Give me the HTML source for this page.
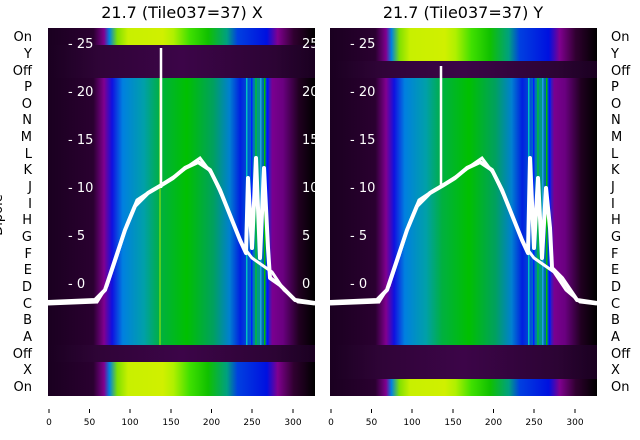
<!DOCTYPE html>
<html><head><meta charset="utf-8"><style>
html,body{margin:0;padding:0;background:#fff;}
svg{display:block;font-family:"DejaVu Sans","Liberation Sans",sans-serif;}
</style></head><body>
<svg width="640" height="440" viewBox="0 0 640 440" xmlns="http://www.w3.org/2000/svg">
<defs>
<linearGradient id="sp" x1="0" y1="0" x2="267" y2="0" gradientUnits="userSpaceOnUse">
<stop offset="0" stop-color="#1a0020"/><stop offset="0.17" stop-color="#2a0030"/>
<stop offset="0.21" stop-color="#800090"/><stop offset="0.24" stop-color="#1010e0"/>
<stop offset="0.28" stop-color="#0080e0"/><stop offset="0.36" stop-color="#00a0a8"/>
<stop offset="0.42" stop-color="#00b040"/><stop offset="0.52" stop-color="#00c000"/>
<stop offset="0.62" stop-color="#00a060"/><stop offset="0.68" stop-color="#0080d0"/>
<stop offset="0.72" stop-color="#0020e0"/><stop offset="0.76" stop-color="#0060d0"/>
<stop offset="0.79" stop-color="#00a080"/><stop offset="0.82" stop-color="#0030e0"/>
<stop offset="0.84" stop-color="#7a0090"/><stop offset="0.88" stop-color="#6a0080"/>
<stop offset="0.94" stop-color="#200020"/><stop offset="1" stop-color="#000"/>
</linearGradient>
<linearGradient id="yl" x1="0" y1="0" x2="267" y2="0" gradientUnits="userSpaceOnUse">
<stop offset="0" stop-color="#1a0020"/><stop offset="0.17" stop-color="#2a0030"/>
<stop offset="0.21" stop-color="#800090"/><stop offset="0.23" stop-color="#0080e0"/>
<stop offset="0.26" stop-color="#80e000"/><stop offset="0.30" stop-color="#c8f000"/>
<stop offset="0.43" stop-color="#d0f000"/><stop offset="0.47" stop-color="#b0f000"/>
<stop offset="0.53" stop-color="#40e000"/><stop offset="0.60" stop-color="#10c000"/>
<stop offset="0.67" stop-color="#00a080"/><stop offset="0.71" stop-color="#0040e0"/>
<stop offset="0.82" stop-color="#0010e0"/><stop offset="0.86" stop-color="#800090"/>
<stop offset="0.92" stop-color="#300030"/><stop offset="1" stop-color="#000"/>
</linearGradient>
<linearGradient id="dk" x1="0" y1="0" x2="267" y2="0" gradientUnits="userSpaceOnUse">
<stop offset="0" stop-color="#1a0020"/><stop offset="0.2" stop-color="#300438"/><stop offset="0.5" stop-color="#3c0548"/><stop offset="0.85" stop-color="#2c0434"/><stop offset="1" stop-color="#1a0020"/>
</linearGradient>
<g id="stripes">
<rect x="198" y="50" width="1.5" height="267" fill="#00c0c0"/>
<rect x="203" y="50" width="1.5" height="267" fill="#0020ff"/>
<rect x="207" y="50" width="2" height="267" fill="#00b050"/>
<rect x="212" y="50" width="1.5" height="267" fill="#20a0e0"/>
<rect x="216" y="50" width="1.5" height="267" fill="#00c000"/>
<rect x="219" y="50" width="1.5" height="267" fill="#0010ff"/>
</g>
</defs>

<!-- LEFT PANEL -->
<g transform="translate(48,28)">
<rect x="0" y="0" width="267" height="368" fill="url(#sp)"/>
<use href="#stripes"/>
<rect x="0" y="0" width="267" height="17" fill="url(#yl)"/>
<rect x="0" y="17" width="267" height="33" fill="url(#dk)"/>
<rect x="0" y="317" width="267" height="17" fill="url(#dk)"/>
<rect x="0" y="334" width="267" height="34" fill="url(#yl)"/>
<line x1="112" y1="50" x2="112" y2="317" stroke="#c0f000" stroke-width="1.5" opacity="0.6"/>
<polyline fill="none" stroke="#fff" stroke-width="4" stroke-linejoin="round"
points="0,274 47,272 57,262 67,232 77,202 87,178 100,165 112,158 125,150 137,140 150,134 162,142 172,162 182,187 192,212 198,225 200,150 204,220 208,130 212,230 216,140 220,220 222,250 232,257 247,272 267,275"/>
<polyline fill="none" stroke="#fff" stroke-width="3" points="0,276 49,274 59,258 69,228 79,196 89,172 104,162 116,155 130,146 142,137 152,130 164,146 174,168 184,192 194,217 204,230 224,244 236,262 250,274 267,276"/>
<line x1="113" y1="20" x2="113" y2="160" stroke="#fff" stroke-width="2.5"/>
<g fill="#fff" font-size="13">
<text x="20" y="20">- 25</text><text x="20" y="68">- 20</text><text x="20" y="116">- 15</text>
<text x="20" y="164">- 10</text><text x="20" y="212">- 5</text><text x="20" y="260">- 0</text>
<text x="254" y="20">25</text><text x="254" y="68">20</text><text x="254" y="116">15</text>
<text x="254" y="164">10</text><text x="254" y="212">5</text><text x="254" y="260">0</text>
</g>
</g>

<!-- RIGHT PANEL -->
<g transform="translate(330,28)">
<rect x="0" y="0" width="267" height="368" fill="url(#sp)"/>
<use href="#stripes"/>
<rect x="0" y="0" width="267" height="33" fill="url(#yl)"/>
<rect x="0" y="33" width="267" height="17" fill="url(#dk)"/>
<rect x="0" y="317" width="267" height="34" fill="url(#dk)"/>
<rect x="0" y="351" width="267" height="17" fill="url(#yl)"/>
<polyline fill="none" stroke="#fff" stroke-width="4" stroke-linejoin="round"
points="0,274 47,272 57,262 67,232 77,202 87,178 100,165 112,158 125,150 137,140 150,134 162,142 172,162 182,187 192,212 198,225 200,130 204,220 208,150 212,230 216,160 220,200 222,240 232,250 247,272 267,275"/>
<polyline fill="none" stroke="#fff" stroke-width="3" points="0,276 49,274 59,258 69,228 79,196 89,172 104,162 116,155 130,146 142,137 152,130 164,146 174,168 184,192 194,217 204,230 224,244 236,262 250,274 267,276"/>
<line x1="111" y1="38" x2="111" y2="160" stroke="#fff" stroke-width="2.5"/>
<g fill="#fff" font-size="13">
<text x="20" y="20">- 25</text><text x="20" y="68">- 20</text><text x="20" y="116">- 15</text>
<text x="20" y="164">- 10</text><text x="20" y="212">- 5</text><text x="20" y="260">- 0</text>
</g>
</g>

<!-- titles -->
<g font-size="16" fill="#000" text-anchor="middle">
<text x="182" y="18">21.7 (Tile037=37) X</text>
<text x="463" y="18">21.7 (Tile037=37) Y</text>
</g>

<!-- row labels -->
<g font-size="13" fill="#000">
<g text-anchor="end">
<text x="32" y="41">On</text><text x="32" y="58">Y</text><text x="32" y="75">Off</text>
<text x="32" y="91">P</text><text x="32" y="108">O</text><text x="32" y="124">N</text>
<text x="32" y="141">M</text><text x="32" y="158">L</text><text x="32" y="174">K</text>
<text x="32" y="191">J</text><text x="32" y="208">I</text><text x="32" y="224">H</text>
<text x="32" y="241">G</text><text x="32" y="258">F</text><text x="32" y="274">E</text>
<text x="32" y="291">D</text><text x="32" y="308">C</text><text x="32" y="324">B</text>
<text x="32" y="341">A</text><text x="32" y="358">Off</text><text x="32" y="374">X</text>
<text x="32" y="391">On</text>
</g>
<g text-anchor="start">
<text x="611" y="41">On</text><text x="611" y="58">Y</text><text x="611" y="75">Off</text>
<text x="611" y="91">P</text><text x="611" y="108">O</text><text x="611" y="124">N</text>
<text x="611" y="141">M</text><text x="611" y="158">L</text><text x="611" y="174">K</text>
<text x="611" y="191">J</text><text x="611" y="208">I</text><text x="611" y="224">H</text>
<text x="611" y="241">G</text><text x="611" y="258">F</text><text x="611" y="274">E</text>
<text x="611" y="291">D</text><text x="611" y="308">C</text><text x="611" y="324">B</text>
<text x="611" y="341">A</text><text x="611" y="358">Off</text><text x="611" y="374">X</text>
<text x="611" y="391">On</text>
</g>
<text transform="translate(2,215) rotate(-90)" text-anchor="middle" font-size="13">Dipole</text>
</g>

<!-- x ticks -->
<g stroke="#000" stroke-width="1">
<line x1="49" y1="409" x2="49" y2="413"/><line x1="89.5" y1="409" x2="89.5" y2="413"/><line x1="130" y1="409" x2="130" y2="413"/>
<line x1="171" y1="409" x2="171" y2="413"/><line x1="211.5" y1="409" x2="211.5" y2="413"/><line x1="252" y1="409" x2="252" y2="413"/><line x1="293" y1="409" x2="293" y2="413"/>
<line x1="331" y1="409" x2="331" y2="413"/><line x1="371.5" y1="409" x2="371.5" y2="413"/><line x1="412" y1="409" x2="412" y2="413"/>
<line x1="453" y1="409" x2="453" y2="413"/><line x1="493.5" y1="409" x2="493.5" y2="413"/><line x1="534" y1="409" x2="534" y2="413"/><line x1="575" y1="409" x2="575" y2="413"/>
</g>
<g font-size="9" fill="#000" text-anchor="middle">
<text x="49" y="425">0</text><text x="89.5" y="425">50</text><text x="130" y="425">100</text><text x="171" y="425">150</text>
<text x="211.5" y="425">200</text><text x="252" y="425">250</text><text x="293" y="425">300</text>
<text x="331" y="425">0</text><text x="371.5" y="425">50</text><text x="412" y="425">100</text><text x="453" y="425">150</text>
<text x="493.5" y="425">200</text><text x="534" y="425">250</text><text x="575" y="425">300</text>
</g>
</svg>
</body></html>
